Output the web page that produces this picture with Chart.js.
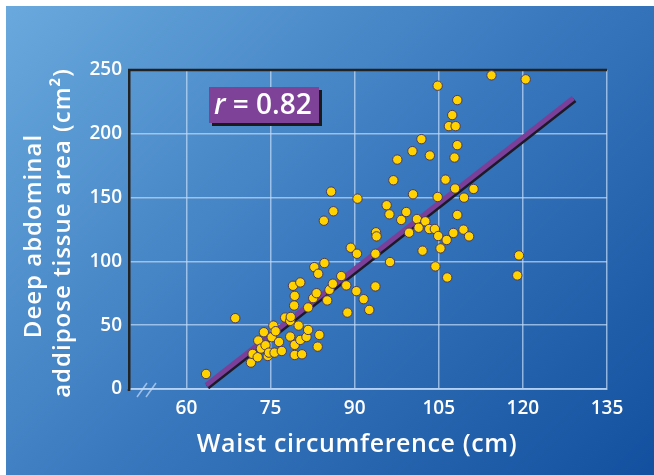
<!DOCTYPE html>
<html>
<head>
<meta charset="utf-8">
<script src="https://cdn.jsdelivr.net/npm/chart.js@4.4.1/dist/chart.umd.min.js"></script>
<style>
  html, body { margin: 0; padding: 0; background: #fff; }
  #wrap { width: 654px; height: 475px; position: relative; }
</style>
</head>
<body>
<div id="wrap"><canvas id="waistChart"></canvas></div>
<script>
// waist circumference (cm) against deep abdominal adipose tissue area (cm2)
const waist = [63.5, 68.7, 71.5, 71.8, 72.7, 72.8, 73.3, 73.8, 74.1, 74.5, 74.7, 75.2, 75.5, 75.9, 75.7,
    76.5, 77, 77.6, 78.5, 78.6, 78.5, 79, 79.3, 79.2, 79.3, 79.3, 80, 80.3, 80.3, 80.6, 81.4, 81.7, 81.7,
    82.6, 82.8, 83.2, 83.5, 83.4, 83.7, 84.5, 84.6, 85.1, 85.5, 85.8, 86.1, 86.2, 87.6, 88.5, 88.7, 89.3,
    90.3, 90.4, 90.5, 91.6, 92.6, 93.7, 93.7, 93.8, 93.9, 95.7, 96.2, 96.3, 96.9, 97.6, 98.3, 99.2, 99.7,
    100.3, 100.4, 101.1, 101.4, 101.9, 102.1, 102.6, 103.3, 103.4, 104.3, 104.4, 104.8, 104.8, 104.9, 105.3,
    106.2, 106.4, 106.5, 106.8, 107.4, 107.6, 107.8, 107.9, 108, 108.3, 108.3, 108.3, 109.4, 109.5, 110.4,
    111.2, 114.4, 119, 119.3, 120.5];
const deepAT = [11.8, 55.5, 20.7, 27.5, 24.9, 38, 31.7, 44.5, 34.3, 25.9, 28.5, 40.6, 49.7, 45.3, 28.5,
    36.9, 29.8, 56, 53.4, 56.5, 41.1, 80.9, 73, 65.4, 34.6, 26.7, 49.7, 83.5, 38.5, 27.2, 40.8, 46.3, 63.9,
    71.2, 95.5, 75.1, 90.3, 33.2, 42.4, 131.9, 98.7, 69.4, 77.7, 154.7, 82.5, 139.3, 88.5, 81.2, 59.9, 110.7,
    76.7, 106, 149.2, 70.4, 62, 80.4, 106, 122.8, 119.6, 144, 136.9, 99.5, 163.6, 179.8, 132.5, 138.7, 122.5,
    186.4, 152.6, 133.2, 126.4, 195.8, 108.4, 131.4, 125.4, 183, 125.4, 96.1, 237.7, 150.5, 119.9, 110.2,
    164.1, 116.8, 87.4, 206, 214.7, 122.3, 181.4, 157.1, 206, 226.4, 191.1, 136.4, 124.9, 150, 119.6,
    156.8, 245.8, 89, 104.7, 242.7];

// regression line end points
const fitX = [63.5, 129];
const fitY = [3, 228];

const xTicks = [60, 75, 90, 105, 120, 135];
const yTicks = [0, 50, 100, 150, 200, 250];
const rValue = '0.82';

const FONT = "'Open Sans', sans-serif";
const gridColor = 'rgba(195, 220, 248, 0.7)';

const points = waist.map((x, i) => ({ x: x, y: deepAT[i] }));
const fitLine = fitX.map((x, i) => ({ x: x, y: fitY[i] }));

// blue panel behind everything
const backdrop = {
    id: 'backdrop',
    beforeDraw(chart) {
        const ctx = chart.ctx;
        ctx.save();
        ctx.fillStyle = '#fff';
        ctx.fillRect(0, 0, chart.width, chart.height);
        const g = ctx.createLinearGradient(6, 6, 560, 560);
        g.addColorStop(0, '#69a9dd');
        g.addColorStop(0.5, '#3a79be');
        g.addColorStop(1, '#13509f');
        ctx.fillStyle = g;
        ctx.fillRect(6, 6, chart.width - 6, chart.height - 6);
        ctx.restore();
    }
};

// dark edge on the fitted line
const lineShadow = {
    id: 'lineShadow',
    beforeDatasetDraw(chart, args) {
        if (args.index !== 1) return;
        const ctx = chart.ctx;
        ctx.save();
        ctx.shadowColor = '#1c1a28';
        ctx.shadowBlur = 0;
        ctx.shadowOffsetX = 1.5;
        ctx.shadowOffsetY = 2;
    },
    afterDatasetDraw(chart, args) {
        if (args.index !== 1) return;
        chart.ctx.restore();
    }
};

// top border, axis break, r label and axis titles
const decorations = {
    id: 'decorations',
    beforeDatasetsDraw(chart) {
        const { ctx, chartArea: a } = chart;
        ctx.save();
        ctx.strokeStyle = '#222';
        ctx.lineWidth = 2.5;
        ctx.beginPath();
        ctx.moveTo(a.left - 1, a.top);
        ctx.lineTo(a.right, a.top);
        ctx.moveTo(a.left, a.bottom);
        ctx.lineTo(a.left, a.bottom + 2);
        ctx.stroke();
        ctx.restore();
    },
    afterDraw(chart) {
        const { ctx, chartArea: a } = chart;
        ctx.save();

        // axis break marks
        ctx.strokeStyle = gridColor;
        ctx.lineWidth = 1.6;
        ctx.beginPath();
        ctx.moveTo(a.left + 8, a.bottom + 8);
        ctx.lineTo(a.left + 18, a.bottom - 6);
        ctx.moveTo(a.left + 17, a.bottom + 8);
        ctx.lineTo(a.left + 27, a.bottom - 6);
        ctx.stroke();

        // r box
        ctx.fillStyle = '#1b1b1b';
        ctx.fillRect(212, 90, 110, 36);
        ctx.fillStyle = '#7e4398';
        ctx.fillRect(209, 87, 110, 36);
        ctx.fillStyle = '#fff';
        ctx.textBaseline = 'alphabetic';
        ctx.textAlign = 'left';
        ctx.font = 'italic 600 28px ' + FONT;
        ctx.fillText('r', 214, 114);
        const rw = ctx.measureText('r').width;
        ctx.font = '600 28px ' + FONT;
        ctx.fillText(' = ' + rValue, 214 + rw, 114);

        // axis titles
        ctx.letterSpacing = '0.6px';
        ctx.font = '600 25px ' + FONT;
        ctx.textAlign = 'center';
        ctx.fillText('Waist circumference (cm)', 357, 452);

        ctx.letterSpacing = '1px';
        ctx.font = '600 24px ' + FONT;
        ctx.save();
        ctx.translate(41, 236);
        ctx.rotate(-Math.PI / 2);
        ctx.fillText('Deep abdominal', 0, 0);
        ctx.restore();
        ctx.save();
        ctx.translate(70, 233);
        ctx.rotate(-Math.PI / 2);
        ctx.fillText('addipose tissue area (cm\u00B2)', 0, 0);
        ctx.restore();

        ctx.restore();
    }
};

const tickFont = { family: FONT, size: 19, weight: '600' };

new Chart(document.getElementById('waistChart'), {
    data: {
        datasets: [{
            type: 'scatter',
            data: points,
            backgroundColor: '#ffd200',
            borderColor: '#4b3b60',
            borderWidth: 1,
            pointRadius: 4.7,
            order: 1
        }, {
            type: 'line',
            data: fitLine,
            borderColor: '#7c3f99',
            borderWidth: 5,
            pointRadius: 0,
            borderCapStyle: 'butt',
            order: 2
        }]
    },
    options: {
        responsive: true,
        maintainAspectRatio: false,
        animation: false,
        events: [],
        layout: { padding: { top: 70, right: 47, bottom: 0, left: 0 } },
        plugins: {
            legend: { display: false },
            tooltip: { enabled: false }
        },
        scales: {
            x: {
                type: 'linear',
                min: 49.75,
                max: 135,
                afterBuildTicks: s => { s.ticks = xTicks.map(v => ({ value: v })); },
                afterFit: s => { s.height = 86; },
                grid: { color: gridColor, lineWidth: 1.5, drawTicks: false },
                border: { color: gridColor, width: 2 },
                ticks: { color: '#fff', font: tickFont, padding: 8 }
            },
            y: {
                type: 'linear',
                min: 0,
                max: 250,
                afterBuildTicks: s => { s.ticks = yTicks.map(v => ({ value: v })); },
                afterFit: s => { s.width = 129; },
                grid: { color: gridColor, lineWidth: 1.5, drawTicks: false },
                border: { color: '#222', width: 2.5 },
                ticks: { color: '#fff', font: tickFont, padding: 7 }
            }
        }
    },
    plugins: [backdrop, lineShadow, decorations]
});
</script>
</body>
</html>
